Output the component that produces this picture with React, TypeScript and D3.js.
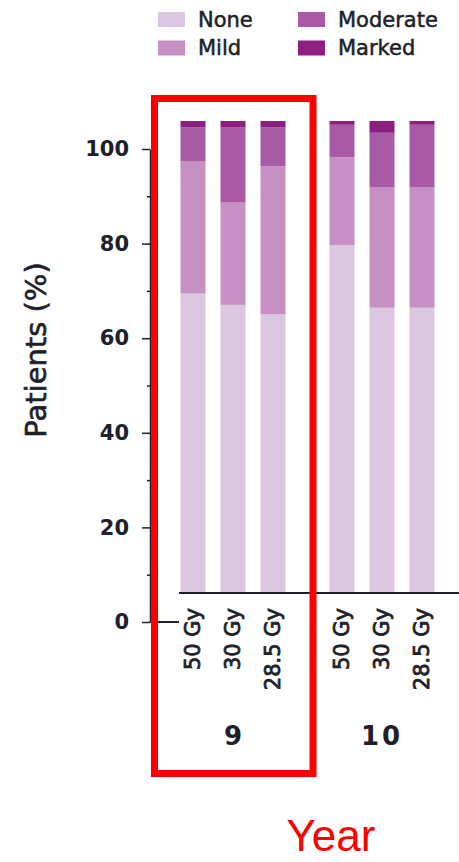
import { useEffect, useRef } from 'react';
import * as d3 from 'd3';

const groups = ['9', '10'];
const doses = ['50 Gy', '30 Gy', '28.5 Gy'];
const severities = ['None', 'Mild', 'Moderate', 'Marked'];
const colors = ['#dcc7e0', '#c690c4', '#a85aa4', '#8c1f7f'];
// one value per bar: 9y 50/30/28.5, 10y 50/30/28.5
const noneVals = [63.4, 61.0, 59.0, 73.7, 60.4, 60.4];
const mildVals = [28.0, 21.7, 31.4, 18.6, 25.6, 25.6];
const moderateVals = [7.3, 16.0, 8.3, 6.9, 11.5, 13.2];
const markedVals = [1.3, 1.3, 1.3, 0.8, 2.5, 0.8];
const yTicks = [0, 20, 40, 60, 80, 100];
const yMinorTicks = [10, 30, 50, 70, 90];

const W = 459;
const H = 862;
const FONT = '"DejaVu Sans", sans-serif';
const INK = '#20202a';

type Row = { group: string; dose: string; None: number; Mild: number; Moderate: number; Marked: number };

export default function App() {
  const svgRef = useRef<SVGSVGElement>(null);

  useEffect(() => {
    const svgEl = svgRef.current;
    if (!svgEl) return;
    const svg = d3.select(svgEl);
    svg.selectAll('*').remove();

    const rows: Row[] = [];
    groups.forEach((g, gi) => doses.forEach((d, di) => {
      const i = gi * doses.length + di;
      rows.push({ group: g, dose: d, None: noneVals[i], Mild: mildVals[i], Moderate: moderateVals[i], Marked: markedVals[i] });
    }));

    const axisX = 150;
    const yAxis = d3.scaleLinear().domain([0, 100]).range([622, 149]);
    // the bar panel sits a little higher than the axis in the original figure
    const yBar = d3.scaleLinear().domain([0, 100]).range([592.5, 121]);
    const xGroup = d3.scaleBand().domain(groups).range([158.5, 456.5]).padding(0);
    const xDose = d3.scaleBand().domain(doses).range([0, xGroup.bandwidth()]).paddingInner(0.375).paddingOuter(0.55);
    const color = d3.scaleOrdinal<string, string>().domain(severities).range(colors);

    // Legend
    const legend = svg.append('g');
    severities.forEach((s, i) => {
      const col = Math.floor(i / 2);
      const row = i % 2;
      const lx = 158 + col * 140;
      const ly = 12 + row * 28.5;
      legend.append('rect').attr('x', lx).attr('y', ly).attr('width', 27).attr('height', 15).attr('fill', color(s));
      legend.append('text').attr('x', lx + 40).attr('y', ly + 14.5)
        .attr('font-family', FONT).attr('font-size', 21).attr('fill', INK)
        .attr('stroke', INK).attr('stroke-width', 0.5)
        .text(s);
    });

    // Stacked bars
    const stack = d3.stack<Row>().keys(severities);
    const series = stack(rows);
    svg.append('g').selectAll('g').data(series).join('g')
      .attr('fill', (d) => color(d.key))
      .selectAll('rect').data((d) => d).join('rect')
      .attr('x', (d) => (xGroup(d.data.group) ?? 0) + (xDose(d.data.dose) ?? 0))
      .attr('width', xDose.bandwidth())
      .attr('y', (d) => yBar(d[1]))
      .attr('height', (d) => yBar(d[0]) - yBar(d[1]));

    // baseline under the bars
    svg.append('line').attr('x1', 179).attr('x2', W).attr('y1', yBar(0) + 0.5).attr('y2', yBar(0) + 0.5)
      .attr('stroke', INK).attr('stroke-width', 2);

    // Y axis
    const yg = svg.append('g').attr('transform', `translate(${axisX},0)`)
      .call(d3.axisLeft(yAxis).tickValues(yTicks).tickSize(8).tickSizeOuter(0).tickPadding(13));
    yg.select('.domain').attr('stroke', INK).attr('stroke-width', 1.5);
    yg.selectAll('.tick line').attr('stroke', INK).attr('stroke-width', 1.5);
    yg.selectAll('.tick text').attr('font-family', FONT).attr('font-size', 21).attr('font-weight', 700).attr('fill', INK);
    const ym = svg.append('g').attr('transform', `translate(${axisX},0)`)
      .call(d3.axisLeft(yAxis).tickValues(yMinorTicks).tickSize(3).tickFormat(() => ''));
    ym.select('.domain').remove();
    ym.selectAll('.tick line').attr('stroke', INK).attr('stroke-width', 1.5);

    // zero line running under the bar panel
    svg.append('line').attr('x1', axisX).attr('x2', 179).attr('y1', yAxis(0)).attr('y2', yAxis(0))
      .attr('stroke', INK).attr('stroke-width', 2);

    // Y label
    svg.append('text').attr('transform', `translate(46,350) rotate(-90)`).attr('text-anchor', 'middle')
      .attr('font-family', FONT).attr('font-size', 29).attr('fill', INK)
      .attr('stroke', INK).attr('stroke-width', 0.6)
      .text('Patients (%)');

    // Dose labels
    rows.forEach((r) => {
      const cx = (xGroup(r.group) ?? 0) + (xDose(r.dose) ?? 0) + xDose.bandwidth() / 2;
      svg.append('text').attr('transform', `translate(${cx},608) rotate(-90)`)
        .attr('text-anchor', 'end').attr('dy', '0.35em')
        .attr('font-family', FONT).attr('font-size', 21).attr('fill', INK)
        .attr('stroke', INK).attr('stroke-width', 0.8)
        .text(r.dose);
    });

    // Year labels
    groups.forEach((g) => {
      svg.append('text').attr('x', (xGroup(g) ?? 0) + xGroup.bandwidth() / 2).attr('y', 745)
        .attr('text-anchor', 'middle').attr('font-family', FONT).attr('font-size', 26).attr('font-weight', 700)
        .attr('letter-spacing', g.length > 1 ? 3 : 0).attr('fill', INK)
        .text(g);
    });

    // Highlight box
    svg.append('rect').attr('x', 154.5).attr('y', 98.5).attr('width', 158.5).attr('height', 675)
      .attr('fill', 'none').attr('stroke', '#ff0000').attr('stroke-width', 7);

    svg.append('text').attr('x', 331).attr('y', 851).attr('text-anchor', 'middle')
      .attr('font-family', '"Liberation Sans", Arial, sans-serif').attr('font-size', 44).attr('fill', '#ff0000')
      .text('Year');
  }, []);

  return (
    <svg ref={svgRef} width={W} height={H} viewBox={`0 0 ${W} ${H}`}
      style={{ position: 'fixed', left: 0, top: 0, background: '#fff' }} />
  );
}
